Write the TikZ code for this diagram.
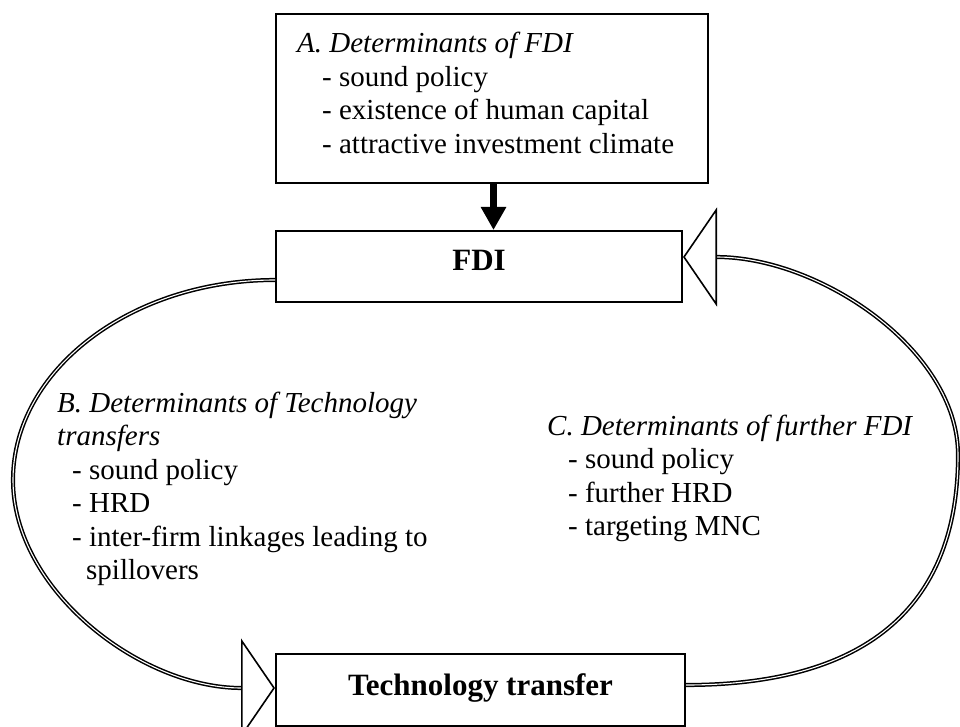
\documentclass[tikz,border=0pt]{standalone}
\usepackage{fontspec}
\setmainfont{Liberation Serif}
\usetikzlibrary{arrows.meta}
\begin{document}
\begin{tikzpicture}[x=1pt,y=-1pt,
  box/.style={draw, line width=2pt, inner sep=0pt, rectangle},
  body/.style={inner sep=0pt, font=\fontsize{29}{33.5}\selectfont},
  title/.style={inner sep=0pt, font=\fontsize{31}{36}\selectfont\bfseries},
  loop/.style={line width=1.5pt, double, double distance=1.1pt},
  opentip/.style={-{Triangle[open, length=34pt, width=99pt, line width=1.6pt]}},
  feed/.style={line width=7pt, -{Triangle[length=23pt, width=24pt]}}
]
\useasboundingbox (0,0) rectangle (960,727);

% boxes
\node[box, minimum width=432pt, minimum height=169pt] (detA) at (492,98.5) {};
\node[box, minimum width=406pt, minimum height=71pt] (fdi) at (479,266.5) {};
\node[box, minimum width=409pt, minimum height=72pt] (tech) at (480.5,690) {};

% box titles
\node[title, anchor=base] (fditxt) at (479,270.5) {FDI};
\node[title, anchor=base] (techtxt) at (480.5,695) {Technology transfer};

% determinant lists
\node[body, anchor=base west] (txtA) at (297,53) {\begin{tabular}[t]{@{}l@{}}
\textit{A. Determinants of FDI}\\
\hspace{25pt}- sound policy\\
\hspace{25pt}- existence of human capital\\
\hspace{25pt}- attractive investment climate
\end{tabular}};
\node[body, anchor=base west] (txtB) at (57,412) {\begin{tabular}[t]{@{}l@{}}
\textit{B. Determinants of Technology}\\
\textit{transfers}\\
\hspace{15pt}- sound policy\\
\hspace{15pt}- HRD\\
\hspace{15pt}- inter-firm linkages leading to\\
\hspace{29pt}spillovers
\end{tabular}};
\node[body, anchor=base west] (txtC) at (547,435) {\begin{tabular}[t]{@{}l@{}}
\textit{C. Determinants of further FDI}\\
\hspace{21pt}- sound policy\\
\hspace{21pt}- further HRD\\
\hspace{21pt}- targeting MNC
\end{tabular}};

% connectors
\coordinate (feedx) at (493.5,0);
\draw[feed] (detA.south -| feedx) -- (fdi.north -| feedx);
\draw[loop, opentip] ([yshift=5pt]tech.east) .. controls (850,685) and (958,620) .. (958,455)
  .. controls (958,350) and (820,257) .. ([yshift=9.5pt]fdi.east);
\draw[loop, opentip] ([yshift=-13.5pt]fdi.west) .. controls (131,280) and (13,370) .. (13,480)
  .. controls (13,590) and (140,688) .. ([yshift=2pt]tech.west);
\end{tikzpicture}
\end{document}
